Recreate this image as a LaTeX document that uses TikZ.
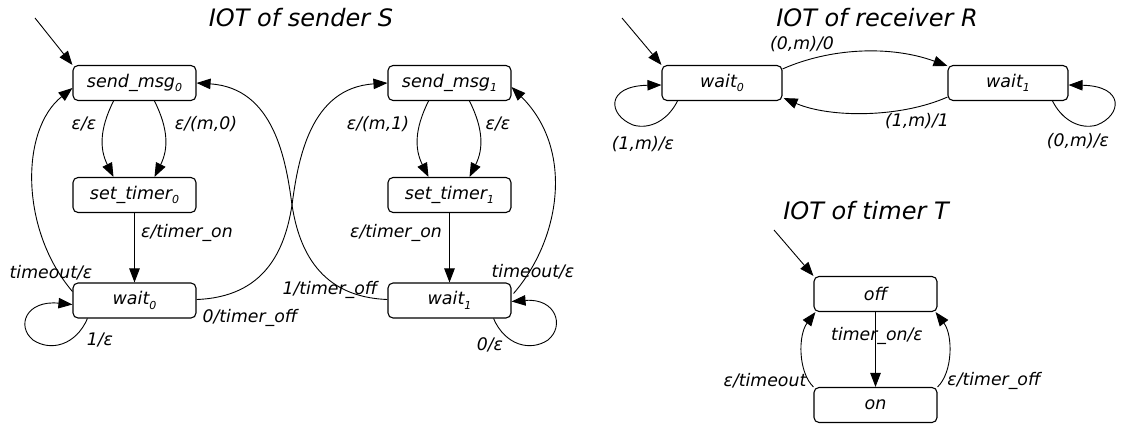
\documentclass[tikz,border=0pt]{standalone}
\usepackage{fontspec}
\setmainfont{DejaVu Sans}
\usetikzlibrary{arrows.meta}
\newcommand\sbsc[1]{\raisebox{-4.5pt}{\fontsize{11}{11}\selectfont #1}}
\tikzset{
  st/.style={draw, rounded corners=5pt, minimum width=123pt, minimum height=35pt, line width=1.1pt, inner sep=0pt, font=\fontsize{17.5}{17.5}\selectfont\itshape},
  lb/.style={font=\fontsize{17.3}{17.3}\selectfont\itshape, inner sep=0pt},
  ttl/.style={font=\fontsize{24}{24}\selectfont\itshape, inner sep=0pt},
  tr/.style={-{Triangle[length=14pt,width=10.5pt]}, line width=0.9pt},
}
\begin{document}
\begin{tikzpicture}[x=1pt,y=-1pt]
\useasboundingbox (0,0) rectangle (1137,428);
% titles
\node[ttl] (tS) at (301,18) {IOT of sender S};
\node[ttl] (tR) at (877,18) {IOT of receiver R};
\node[ttl] (tT) at (866,211) {IOT of timer T};
% sender states
\node[st] (s0) at (134.5,83) {send\_msg\sbsc{0}};
\node[st] (t0) at (134.5,195) {set\_timer\sbsc{0}};
\node[st] (w0) at (134.5,300.5) {wait\sbsc{0}};
\node[st] (s1) at (449.5,83) {send\_msg\sbsc{1}};
\node[st] (t1) at (449.5,195) {set\_timer\sbsc{1}};
\node[st] (w1) at (449.5,300.5) {wait\sbsc{1}};
% receiver states
\node[st, minimum width=120pt] (r0) at (722,83) {wait\sbsc{0}};
\node[st, minimum width=120pt] (r1) at (1008,83) {wait\sbsc{1}};
% timer states
\node[st] (off) at (875.5,294) {off};
\node[st] (on) at (875.5,405) {on};
% initial arrows
\coordinate (iS) at (35,18);
\coordinate (iR) at (622,18);
\coordinate (iT) at (774,230);
\draw[tr] (iS) -- (s0.north west);
\draw[tr] (iR) -- (r0.north west);
\draw[tr] (iT) -- (off.north west);
% sender 0
\draw[tr] ([xshift=-21pt]s0.south) .. controls +(-14,28) and +(-14,-28) .. ([xshift=-21pt]t0.north);
\draw[tr] ([xshift=20pt]s0.south) .. controls +(14,28) and +(14,-28) .. ([xshift=20pt]t0.north);
\node[lb] (l1) at (84,124) {ε/ε};
\node[lb] (l2) at (206,124) {ε/(m,0)};
\draw[tr] (t0) -- (w0);
\node[lb, anchor=west] (l3) at (141,233) {ε/timer\_on};
\draw[tr] ([yshift=9pt]w0.west) .. controls (20,230) and (20,130) .. ([yshift=-5pt]s0.west);
\node[lb] (l4) at (51,273) {timeout/ε};
\draw[tr] ([xshift=15pt]w0.south west) .. controls (76,345) and (51,352) .. (33,340) .. controls (16,326) and (26,300) .. ([yshift=-4pt]w0.west);
\node[lb] (l5) at (100,340) {1/ε};
\draw[tr] ([yshift=1pt]w0.east) .. controls (265,297) and (285,250) .. (292,205) .. controls (298,160) and (310,88) .. (s1.west);
\node[lb] (l6) at (250,318) {0/timer\_off};
\draw[tr] ([yshift=1pt]w1.west) .. controls (320,297) and (299,250) .. (292,205) .. controls (286,160) and (274,88) .. (s0.east);
\node[lb] (l7) at (330,290) {1/timer\_off};
% sender 1
\draw[tr] ([xshift=-21pt]s1.south) .. controls +(-14,28) and +(-14,-28) .. ([xshift=-21pt]t1.north);
\draw[tr] ([xshift=20pt]s1.south) .. controls +(14,28) and +(14,-28) .. ([xshift=20pt]t1.north);
\node[lb] (l8) at (378,124) {ε/(m,1)};
\node[lb] (l9) at (498,124) {ε/ε};
\draw[tr] (t1) -- (w1);
\node[lb, anchor=east] (l10) at (442,233) {ε/timer\_on};
\draw[tr] ([xshift=2pt,yshift=7pt]w1.east) .. controls (560,240) and (575,150) .. ([yshift=-4pt]s1.east);
\node[lb] (l11) at (533,272) {timeout/ε};
\draw[tr] ([xshift=-18pt]w1.south east) .. controls (505,345) and (530,352) .. (548,340) .. controls (565,326) and (556,298) .. ([yshift=-1pt]w1.east);
\node[lb] (l12) at (490,345) {0/ε};
% receiver
\draw[tr] ([yshift=-4pt]r0.north east) .. controls (830,48) and (890,45) .. ([yshift=-1pt]r1.north west);
\node[lb] (l13) at (802,44) {(0,m)/0};
\draw[tr] ([yshift=4pt]r1.south west) .. controls (900,118) and (830,118) .. ([xshift=1pt,yshift=3pt]r0.south east);
\node[lb] (l14) at (917,121) {(1,m)/1};
\draw[tr] ([xshift=16pt]r0.south west) .. controls (668,120) and (650,130) .. (633,125) .. controls (608,115) and (605,86) .. ([yshift=-2pt]r0.west);
\node[lb] (l15) at (643,144) {(1,m)/ε};
\draw[tr] ([xshift=-16pt]r1.south east) .. controls (1062,120) and (1080,130) .. (1097,125) .. controls (1122,115) and (1125,86) .. ([yshift=-2pt]r1.east);
\node[lb] (l16) at (1078,141) {(0,m)/ε};
% timer
\draw[tr] (off) -- (on);
\node[lb] (l17) at (877,336) {timer\_on/ε};
\draw[tr] (on.north west) .. controls (798,372) and (798,335) .. ([xshift=2pt]off.south west);
\node[lb] (l18) at (765,381) {ε/timeout};
\draw[tr] (on.north east) .. controls (953,372) and (953,335) .. ([xshift=-2pt]off.south east);
\node[lb] (l19) at (994,381) {ε/timer\_off};
\end{tikzpicture}
\end{document}
